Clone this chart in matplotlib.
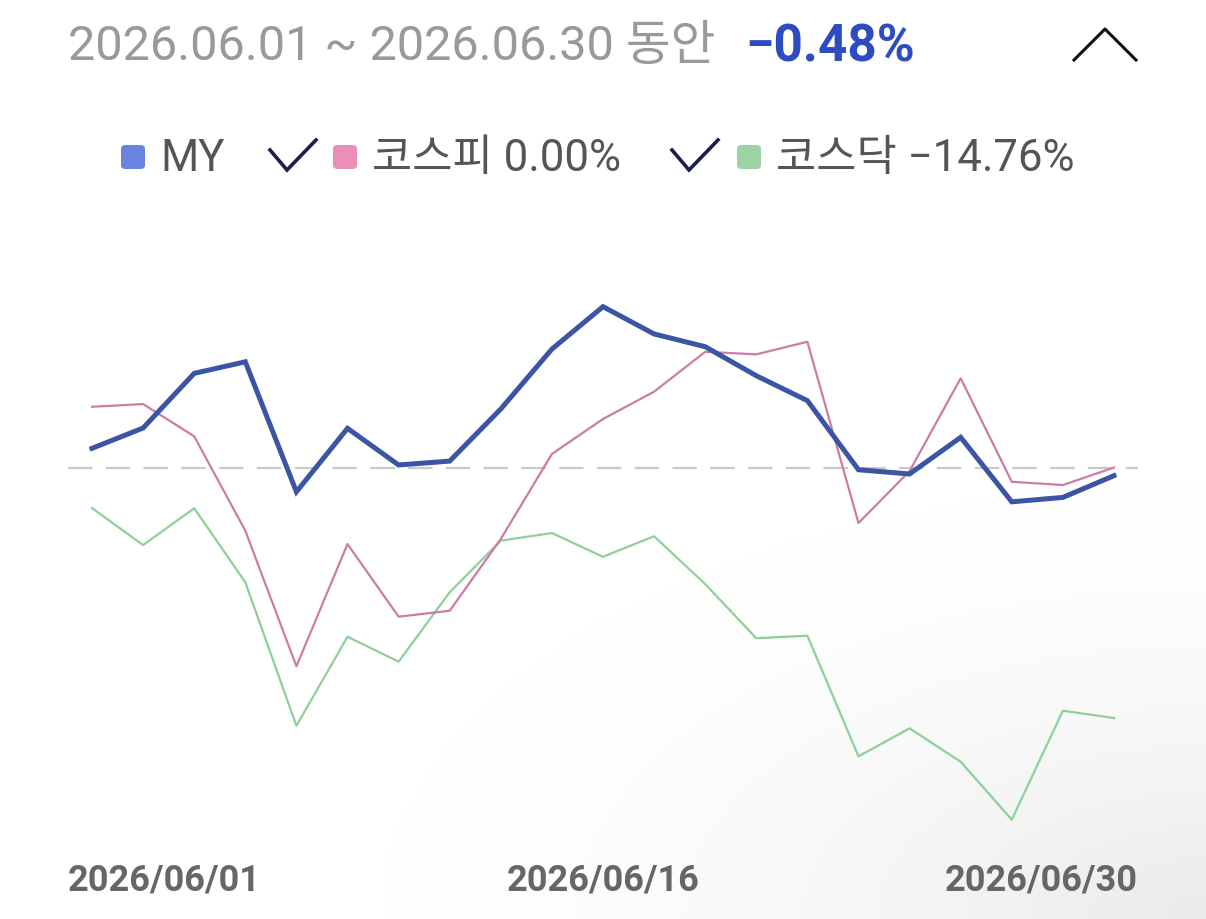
import matplotlib
matplotlib.use("Agg")
import numpy as np
import matplotlib.pyplot as plt
from matplotlib.lines import Line2D
from matplotlib.patches import FancyBboxPatch
from matplotlib.transforms import ScaledTranslation

# ---- data (cumulative return, %) ----
dates = ["2026/06/01", "06/02", "06/03", "06/04", "06/05", "06/08", "06/09", "06/10",
         "06/11", "06/12", "06/15", "2026/06/16", "06/17", "06/18", "06/19", "06/22",
         "06/23", "06/24", "06/25", "06/26", "2026/06/30"]
my_vals = [1.13, 2.33, 5.55, 6.23, -1.43, 2.31, 0.15, 0.38, 3.45, 6.98, 9.48,
           7.87, 7.12, 5.41, 3.94, -0.13, -0.38, 1.78, -2.02, -1.76, -0.48]
kospi_vals = [3.58, 3.74, 1.84, -3.72, -11.71, -4.51, -8.79, -8.44, -4.21, 0.80, 2.86,
              4.47, 6.82, 6.67, 7.41, -3.27, -0.21, 5.26, -0.84, -1.03, 0.00]
kosdaq_vals = [-2.39, -4.57, -2.40, -6.76, -15.22, -9.97, -11.44, -7.35, -4.31, -3.86, -5.26,
               -4.05, -6.87, -10.06, -9.91, -17.02, -15.37, -17.34, -20.75, -14.33, -14.76]
tick_idx = [0, 10, 20]
tick_labels = ["2026/06/01", "2026/06/16", "2026/06/30"]
title_text = "2026.06.01 ~ 2026.06.30 동안"
title_value = "−0.48%"
legend_labels = ["MY", "코스피 0.00%", "코스닥 −14.76%"]

C_MY = "#3b54a3"
C_KOSPI = "#cd7ca3"
C_KOSDAQ = "#8fcf9a"
SQ_MY = "#6a82e0"
SQ_KOSPI = "#ec8fb8"
SQ_KOSDAQ = "#9ad4a6"

W, H = 1206, 920
fig = plt.figure(figsize=(W / 100, H / 100), dpi=100)
fig.patch.set_facecolor("white")
FONT = ["Roboto", "Noto Sans CJK KR", "DejaVu Sans"]


def fx(x):
    return x / W


def fy(y):
    return 1 - y / H


# ---- subtle background shading toward bottom-right corner ----
bg = fig.add_axes([0, 0, 1, 1], zorder=-5)
gx, gy = np.meshgrid(np.linspace(0, 1, 240), np.linspace(0, 1, 184))
d = np.sqrt(((1 - gx) * 1.1) ** 2 + ((1 - gy) * 1.6) ** 2)
shade = 1 - 0.08 * np.clip(1 - d / 0.75, 0, 1) ** 1.6
bg.imshow(np.dstack([shade, shade, shade]), extent=[0, 1, 0, 1], aspect="auto",
          origin="upper", interpolation="bilinear")
bg.set_axis_off()

# ---- axes ----
left, right, top, bottom = 68, 1138, 280, 840
ax = fig.add_axes([fx(left), fy(bottom), (right - left) / W, (bottom - top) / H])
x = list(range(len(dates)))
ax.axhline(0, color="#c9c9cd", lw=1.6, dashes=(11, 6), zorder=1)
ax.plot(x, kosdaq_vals, color=C_KOSDAQ, lw=1.6, zorder=2)
ax.plot(x, kospi_vals, color=C_KOSPI, lw=1.6, zorder=3)
ax.plot(x, my_vals, color=C_MY, lw=3.6, zorder=4, solid_joinstyle="miter")
ax.set_xlim(-0.47, 20.47)
ax.set_ylim(-21.89, 11.11)
for s in ax.spines.values():
    s.set_visible(False)
ax.set_yticks([])
ax.set_xticks(tick_idx)
ax.set_xticklabels(tick_labels, family=FONT, fontsize=26, fontweight="bold", color="#666666")
ax.tick_params(axis="x", length=0, pad=16)
labs = ax.get_xticklabels()
labs[0].set_horizontalalignment("left")
labs[0].set_transform(labs[0].get_transform() + ScaledTranslation(-0.24, 0, fig.dpi_scale_trans))
labs[-1].set_horizontalalignment("right")
labs[-1].set_transform(labs[-1].get_transform() + ScaledTranslation(0.24, 0, fig.dpi_scale_trans))
ax.set_facecolor("none")

# ---- title ----
fig.text(fx(68), fy(47), title_text, family=FONT, fontsize=35, color="#999999",
         ha="left", va="center")
fig.text(fx(745), fy(47), title_value, family=FONT, fontsize=37, fontweight="bold",
         color="#2d4cc2", ha="left", va="center")
# chevron
fig.add_artist(Line2D([fx(1074), fx(1105), fx(1136)], [fy(61), fy(30), fy(61)],
                      transform=fig.transFigure, color="#111111", lw=2.2))


# ---- legend ----
def square(xp, color):
    fig.add_artist(FancyBboxPatch((fx(xp), fy(170)), 24 / W, 24 / H,
                                  boxstyle="round,pad=0,rounding_size=0.004",
                                  transform=fig.transFigure, facecolor=color,
                                  edgecolor="none"))


def check(xp):
    fig.add_artist(Line2D([fx(xp), fx(xp + 17), fx(xp + 46)],
                          [fy(151), fy(171), fy(141)],
                          transform=fig.transFigure, color="#1c1f4d", lw=2.6,
                          solid_joinstyle="miter"))


LEG_FS = 31.5
square(121, SQ_MY)
fig.text(fx(160), fy(159), legend_labels[0], family=FONT, fontsize=LEG_FS, color="#555555",
         ha="left", va="center")
check(270)
square(333, SQ_KOSPI)
fig.text(fx(372), fy(159), legend_labels[1], family=FONT, fontsize=LEG_FS, color="#555555",
         ha="left", va="center")
check(672)
square(737, SQ_KOSDAQ)
fig.text(fx(776), fy(159), legend_labels[2], family=FONT, fontsize=LEG_FS, color="#555555",
         ha="left", va="center")

fig.savefig("out.png", dpi=100)
